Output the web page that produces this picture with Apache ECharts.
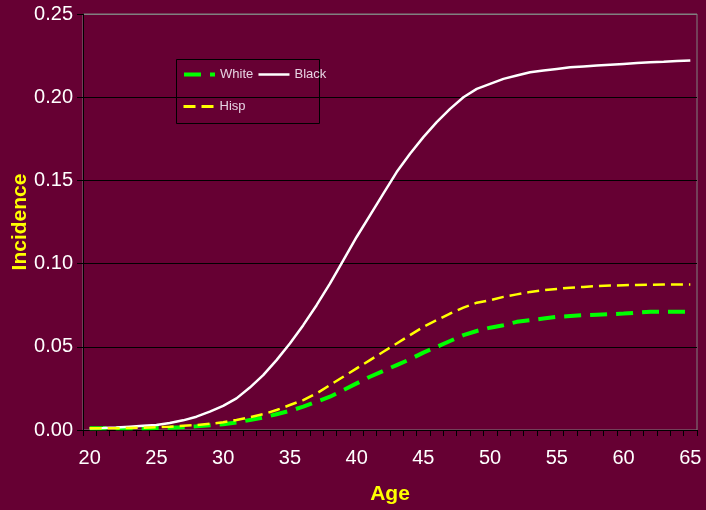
<!DOCTYPE html>
<html>
<head>
<meta charset="utf-8">
<script src="https://cdn.jsdelivr.net/npm/echarts@6/dist/echarts.min.js"></script>
<style>
  html, body { margin: 0; padding: 0; background: #660033; }
  #chart { width: 706px; height: 510px; }
</style>
</head>
<body>
<div id="chart"></div>
<script>
// Ages along the category axis
var ages = [];
for (var a = 20; a <= 65; a++) ages.push(String(a));

// Cumulative incidence by age, one array per group
var white = [0.001, 0.001, 0.001, 0.001, 0.0011, 0.0012, 0.0014, 0.0017, 0.0022, 0.0028,
  0.0035, 0.0045, 0.006, 0.0075, 0.0095, 0.0115, 0.014, 0.017, 0.020, 0.024,
  0.028, 0.032, 0.0355, 0.039, 0.0425, 0.0465, 0.050, 0.0535, 0.057, 0.0595,
  0.0615, 0.063, 0.065, 0.066, 0.067, 0.068, 0.0685, 0.069, 0.0693, 0.0696,
  0.070, 0.0705, 0.071, 0.071, 0.071, 0.071];

var black = [0.001, 0.0012, 0.0015, 0.002, 0.0025, 0.003, 0.0042, 0.0058, 0.008, 0.011,
  0.0145, 0.019, 0.0255, 0.033, 0.042, 0.052, 0.063, 0.075, 0.088, 0.102,
  0.116, 0.129, 0.142, 0.155, 0.166, 0.176, 0.185, 0.193, 0.200, 0.205,
  0.208, 0.211, 0.213, 0.215, 0.216, 0.217, 0.218, 0.2185, 0.219, 0.2195,
  0.220, 0.2205, 0.221, 0.2213, 0.2217, 0.222];

var hisp = [0.001, 0.001, 0.0011, 0.0012, 0.0014, 0.0016, 0.002, 0.0025, 0.003, 0.0037,
  0.0046, 0.006, 0.0077, 0.0095, 0.012, 0.015, 0.018, 0.022, 0.027, 0.032,
  0.037, 0.042, 0.047, 0.052, 0.057, 0.062, 0.066, 0.070, 0.0735, 0.0765,
  0.078, 0.080, 0.0815, 0.083, 0.084, 0.0848, 0.0855, 0.086, 0.0865, 0.0868,
  0.087, 0.0872, 0.0873, 0.0874, 0.0874, 0.0874];

var FONT = '"Liberation Sans", Arial, sans-serif';

var legendText = { color: '#e6d2e2', fontSize: 13, fontFamily: FONT };
// Legend entries show only the line sample, no marker
var legendMarker = { color: 'rgba(0,0,0,0)', borderColor: 'rgba(0,0,0,0)', borderWidth: 0 };

var chart = echarts.init(document.getElementById('chart'), null, { renderer: 'canvas' });

chart.setOption({
  backgroundColor: '#660033',
  animation: false,
  grid: {
    left: 83, right: 9, top: 14, bottom: 80,
    containLabel: false,
    outerBoundsMode: 'none',
    show: true, borderColor: '#808080', borderWidth: 1,
    backgroundColor: 'transparent'
  },
  legend: [
    {
      data: [
        { name: 'White', lineStyle: { width: 4 } },
        { name: 'Black', lineStyle: { width: 2.5 } }
      ],
      left: 182, top: 68, padding: 0,
      itemWidth: 31, itemHeight: 14, itemGap: 4,
      itemStyle: legendMarker,
      textStyle: legendText
    },
    {
      data: [{ name: 'Hisp', lineStyle: { width: 3 } }],
      left: 182, top: 100, padding: 0,
      itemWidth: 31, itemHeight: 14, itemGap: 4,
      itemStyle: legendMarker,
      textStyle: legendText
    }
  ],
  graphic: [{
    type: 'rect',
    shape: { x: 176.5, y: 59.5, width: 143, height: 64 },
    style: { fill: 'none', stroke: '#000000', lineWidth: 1 },
    silent: true
  }],
  xAxis: {
    type: 'category',
    data: ages,
    boundaryGap: true,
    name: 'Age',
    nameLocation: 'middle',
    nameGap: 54,
    nameMoveOverlap: false,
    nameTextStyle: { color: '#ffff00', fontSize: 21, fontWeight: 'bold', fontFamily: FONT },
    axisLine: { lineStyle: { color: '#000000', width: 1 } },
    axisTick: { show: true, interval: 0, length: 6, inside: false, lineStyle: { color: '#000000' } },
    axisLabel: { interval: 4, color: '#ffffff', fontSize: 20, fontFamily: FONT, margin: 18 },
    splitLine: { show: false }
  },
  yAxis: {
    type: 'value',
    min: 0, max: 0.25, interval: 0.05,
    name: 'Incidence',
    nameLocation: 'middle',
    nameGap: 52,
    nameRotate: 90,
    nameMoveOverlap: false,
    nameTextStyle: { color: '#ffff00', fontSize: 21, fontWeight: 'bold', fontFamily: FONT },
    axisLine: { show: true, lineStyle: { color: '#000000', width: 1 } },
    axisTick: { show: true, length: 6, inside: false, lineStyle: { color: '#000000' } },
    axisLabel: {
      color: '#ffffff', fontSize: 20, fontFamily: FONT, margin: 10,
      formatter: function (v) { return v.toFixed(2); }
    },
    splitLine: {
      show: true,
      lineStyle: { color: ['#000000', '#000000', '#000000', '#000000', '#000000', '#808080'], width: 1 }
    }
  },
  series: [
    {
      name: 'White', type: 'line', data: white, symbol: 'none',
      lineStyle: { color: '#00ff00', width: 4, type: [17, 9] },
      itemStyle: { color: '#00ff00' }
    },
    {
      name: 'Black', type: 'line', data: black, symbol: 'none',
      lineStyle: { color: '#ffffff', width: 2.5, type: 'solid' },
      itemStyle: { color: '#ffffff' }
    },
    {
      name: 'Hisp', type: 'line', data: hisp, symbol: 'none',
      lineStyle: { color: '#ffff00', width: 2.5, type: [12, 6] },
      itemStyle: { color: '#ffff00' }
    }
  ]
});
</script>
</body>
</html>
